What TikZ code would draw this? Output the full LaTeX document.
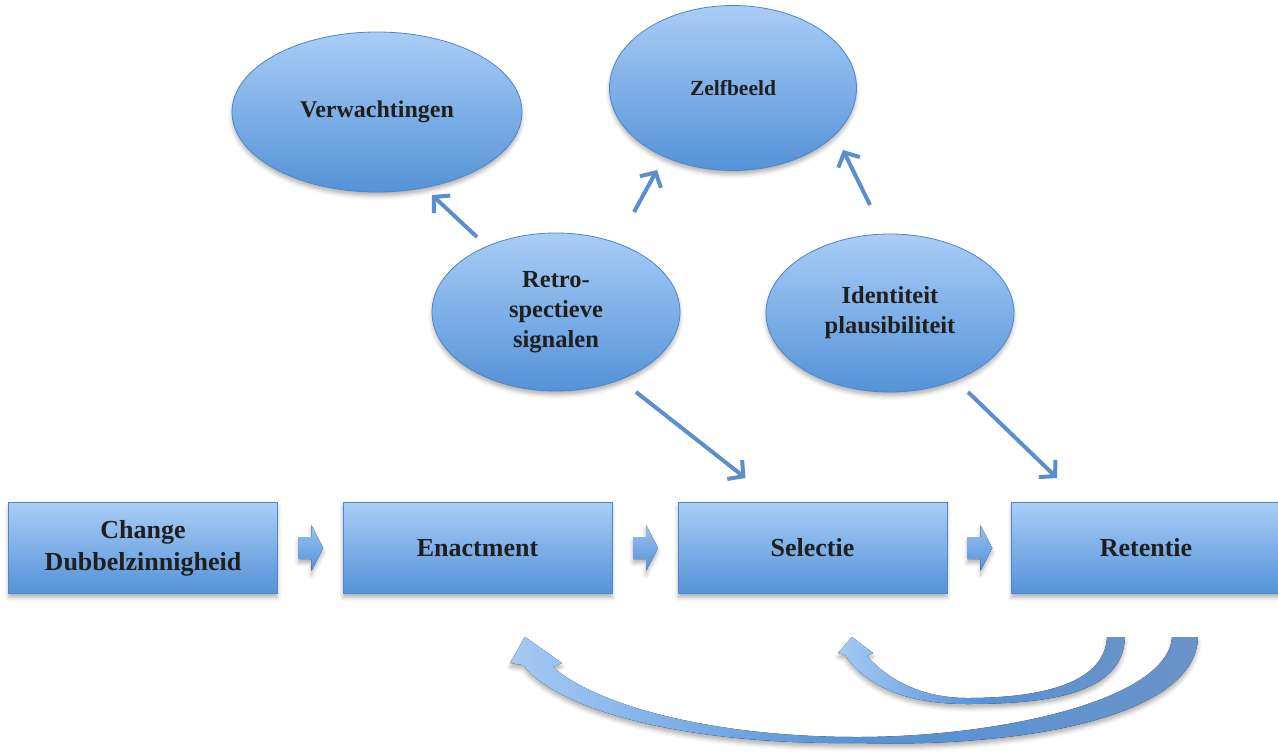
\documentclass[tikz,border=0pt]{standalone}
\usepackage{fontspec}
\setmainfont{Liberation Serif}
\usetikzlibrary{shapes.geometric,calc,arrows.meta,shadows.blur}
\definecolor{ftop}{HTML}{A9CDF6}
\definecolor{fbot}{HTML}{5592D8}
\definecolor{bord}{HTML}{4C87C9}
\definecolor{arrc}{HTML}{5B8ECC}
\definecolor{tailc}{HTML}{6A93C8}
\begin{document}
\begin{tikzpicture}[x=1pt,y=-1pt,
  shad/.style={blur shadow={shadow xshift=0pt,shadow yshift=-4pt,shadow blur radius=4pt,shadow opacity=30}},
  box/.style={draw=bord, line width=0.8pt, top color=ftop, bottom color=fbot, shad,
    minimum width=269pt, minimum height=91pt, inner sep=0pt, align=center,
    font=\fontsize{26}{32}\selectfont\bfseries, text=black!88},
  ell/.style={ellipse, draw=bord, line width=0.8pt, top color=ftop, bottom color=fbot, shad,
    inner sep=0pt, align=center, font=\fontsize{24.5}{30}\selectfont\bfseries, text=black!88},
  arr/.style={draw=arrc, line width=4pt, -{Straight Barb[length=11pt,width=24pt]}},
  blk/.style={top color=ftop!80!fbot, bottom color=fbot, shad},
  curv/.style={left color=ftop!95!fbot, right color=tailc, middle color=fbot, shad}
]
\useasboundingbox (0,0) rectangle (1278,753);

% boxes
\node[box] (b1) at (143,548) {Change\\Dubbelzinnigheid};
\node[box] (b2) at (477.5,548) {Enactment};
\node[box] (b3) at (812.5,548) {Selectie};
\node[box] (b4) at (1146,548) {Retentie};

% ellipses
\node[ell, minimum width=290pt, minimum height=160pt, font=\fontsize{24}{30}\selectfont\bfseries] (verw) at (377,112) {Verwachtingen};
\node[ell, minimum width=247pt, minimum height=165pt, font=\fontsize{21.5}{28}\selectfont\bfseries] (zelf) at (733,88) {Zelfbeeld};
\node[ell, minimum width=248pt, minimum height=158pt] (retro) at (556,312) {Retro-\\spectieve\\signalen};
\node[ell, minimum width=248pt, minimum height=158pt] (ident) at (890,313) {Identiteit\\plausibiliteit};

% straight arrows
\draw[arr] ($(retro)+(-79,-75)$) -- ($(verw)+(55,83)$);
\draw[arr] ($(retro)+(78,-100)$) -- ($(zelf)+(-76,82)$);
\draw[arr] ($(ident)+(-20,-108)$) -- ($(zelf)+(110,62)$);
\draw[arr] ($(retro)+(80,80)$) -- ($(b3)+(-67,-70)$);
\draw[arr] ($(ident)+(78,79)$) -- ($(b4)+(-89,-70)$);

% block arrows between boxes
\foreach \a/\b in {b1/b2,b2/b3,b3/b4}{
  \coordinate (m\a) at ($(\a.east)!0.5!(\b.west)$);
  \fill[blk] ($(m\a)+(-12,-11)$) -- ($(m\a)+(1,-11)$) -- ($(m\a)+(1,-23)$) -- ($(m\a)+(13,0)$)
    -- ($(m\a)+(1,23)$) -- ($(m\a)+(1,11)$) -- ($(m\a)+(-12,11)$) -- cycle;
}

% curved arrows (Retentie back to Enactment / Selectie)
\fill[curv] (1198,637) .. controls (1196,715) and (1030,748) .. (857,743)
  .. controls (690,745) and (560,712) .. (523,665) -- (510,663) -- (525,637) -- (562,663) -- (553,667)
  .. controls (600,708) and (720,737) .. (857,737)
  .. controls (1000,737) and (1168,700) .. (1172,637) -- cycle;
\fill[curv] (1125,637) .. controls (1123,690) and (1060,704) .. (967,704)
  .. controls (905,704) and (865,685) .. (845,655) -- (838,653) -- (852,637) -- (873,653) -- (867,656)
  .. controls (890,682) and (925,698) .. (967,698)
  .. controls (1050,698) and (1105,680) .. (1107,637) -- cycle;
\end{tikzpicture}
\end{document}
